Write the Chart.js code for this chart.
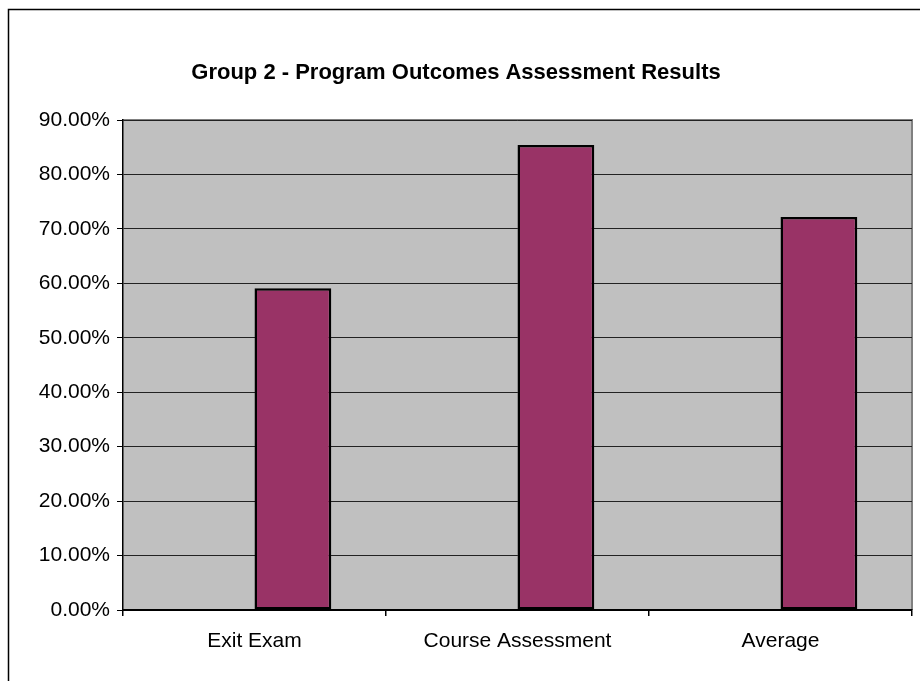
<!DOCTYPE html>
<html>
<head>
<meta charset="utf-8">
<script src="https://cdn.jsdelivr.net/npm/chart.js@4/dist/chart.umd.min.js"></script>
<style>
  html, body { margin: 0; padding: 0; background: #fff; }
  canvas { display: block; }
</style>
</head>
<body>
<canvas id="chart1" width="920" height="681"></canvas>
<script>
// data
const categories = ['Exit Exam', 'Course Assessment', 'Average'];
const blankSeries = [null, null, null];   // empty first series, pushes bars right of centre
const results = [0.591, 0.854, 0.722];
const yTicks = [0, 0.1, 0.2, 0.3, 0.4, 0.5, 0.6, 0.7, 0.8, 0.9];

const FONT = '"Liberation Sans", Arial, sans-serif';

// gray plot area + outer frame
const plotBg = {
    id: 'plotBg',
    beforeDraw(chart) {
        const c = chart.ctx, a = chart.chartArea;
        c.save();
        c.fillStyle = '#c0c0c0';
        c.fillRect(a.left, a.top, a.right - a.left, a.bottom - a.top);
        c.strokeStyle = '#808080';
        c.lineWidth = 2;
        c.beginPath();
        c.moveTo(a.left, a.top);
        c.lineTo(a.right, a.top);
        c.lineTo(a.right, a.bottom);
        c.stroke();
        // chart frame (only left/top are inside the picture)
        c.strokeStyle = '#000';
        c.lineWidth = 1.5;
        c.strokeRect(8.5, 9.5, 2000, 2000);
        c.restore();
    }
};

new Chart(document.getElementById('chart1'), {
    type: 'bar',
    data: {
        labels: categories,
        datasets: [{
            data: blankSeries,
            backgroundColor: '#9999ff'
        }, {
            data: results,
            backgroundColor: '#993366',
            borderColor: '#000',
            borderWidth: 2.5,
            borderSkipped: false
        }]
    },
    options: {
        responsive: false,
        animation: false,
        categoryPercentage: 0.584,
        barPercentage: 1,
        layout: { padding: { top: 0, right: 8, bottom: 0, left: 0 } },
        scales: {
            y: {
                min: 0,
                max: 0.9,
                afterFit: s => { s.width = 123; },
                afterBuildTicks: s => { s.ticks = yTicks.map(v => ({ value: v })); },
                ticks: {
                    color: '#000',
                    padding: 7,
                    font: { family: FONT, size: 21 },
                    callback: v => (v * 100).toFixed(2) + '%'
                },
                grid: { color: '#222', lineWidth: 1, tickLength: 6, tickColor: '#000' },
                border: { color: '#000', width: 1.5 }
            },
            x: {
                afterFit: s => { s.height = 71; },
                ticks: {
                    color: '#000',
                    padding: 13,
                    font: { family: FONT, size: 21 }
                },
                grid: { offset: true, drawOnChartArea: false, tickLength: 6, tickColor: '#000', lineWidth: 1.5 },
                border: { color: '#000', width: 2 }
            }
        },
        plugins: {
            legend: { display: false },
            tooltip: { enabled: false },
            title: {
                display: true,
                text: 'Group 2 - Program Outcomes Assessment Results',
                color: '#000',
                font: { family: FONT, size: 22, weight: 'bold' },
                padding: { top: 60, bottom: 33.6 }
            }
        }
    },
    plugins: [plotBg]
});
</script>
</body>
</html>
